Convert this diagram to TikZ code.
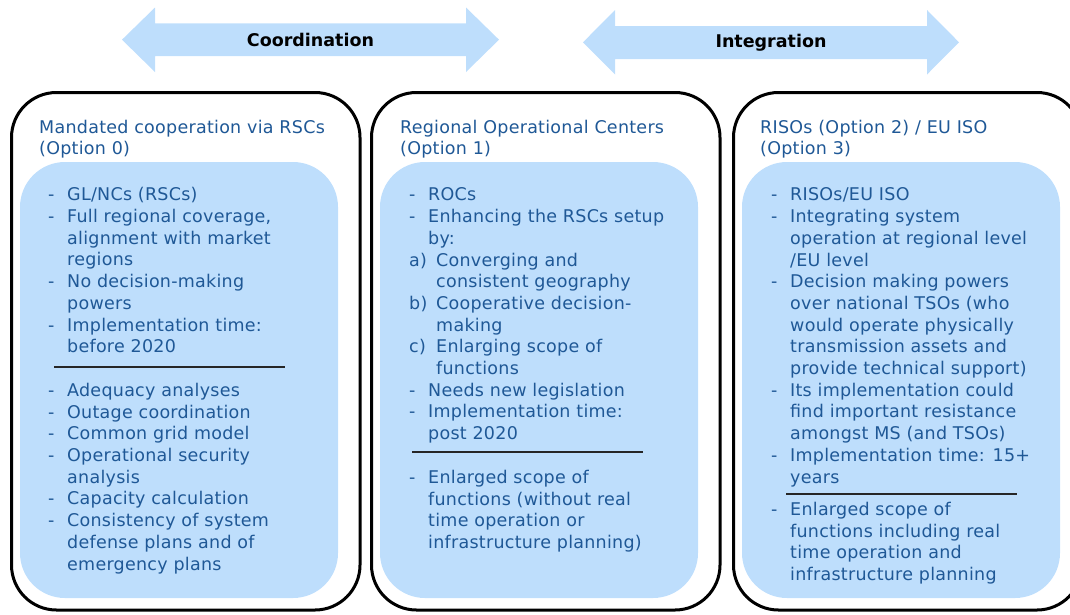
\documentclass[tikz,border=0pt]{standalone}
\usepackage{fontspec}
\setmainfont{DejaVu Sans}
\newfontfamily\optfont[LetterSpace=1.5]{DejaVu Sans}
\usepackage{xcolor}
\usetikzlibrary{positioning}

\definecolor{optblue}{RGB}{31,88,150}
\definecolor{optfill}{RGB}{190,222,252}
\newcommand{\listfont}{\optfont\fontsize{17.5}{21.7}\selectfont}
\newcommand{\dashln}{\makebox[19pt][l]{-}}
\newcommand{\indln}{\hspace*{19pt}}
\newcommand{\letln}[1]{\makebox[27pt][l]{#1}}
\newcommand{\indlet}{\hspace*{27pt}}

\begin{document}
\begin{tikzpicture}[
    x=1pt, y={(0pt,-1pt)},
    optbox/.style={draw, line width=3pt, rounded corners=45pt, inner sep=0pt,
        minimum width=348.5pt, minimum height=517.5pt},
    optpanel/.style={fill=optfill, rounded corners=45pt, inner sep=0pt,
        minimum width=318pt, minimum height=436pt},
    opttext/.style={anchor=north west, inner sep=0pt, align=left, font=\listfont, text=optblue},
    sepline/.style={line width=1.5pt, black!85},
    flowlbl/.style={font=\fontsize{17.5}{21}\selectfont\bfseries, inner sep=0pt}
]
    \clip (0,0) rectangle (1070,614);

    \fill[optfill] (122,39.7) -- (155,7.5) -- (155,23.4) -- (466,23.4) -- (466,7.5)
        -- (499,39.7) -- (466,72) -- (466,56) -- (155,56) -- (155,72) -- cycle;
    \node[flowlbl] (coordlbl) at (310.5,39.7) {Coordination};

    \fill[optfill] (583,42.3) -- (615,10) -- (615,26) -- (927,26) -- (927,10)
        -- (959,42.3) -- (927,74.5) -- (927,59) -- (615,59) -- (615,74.5) -- cycle;
    \node[flowlbl] (integlbl) at (771,42.3) {Integration};

    \node[optbox] (optzero) at (185.75,351.25) {};
    \node[optbox] (optone) at (545.75,351.25) {};
    \node[optbox] (optthree) at (907.75,351.25) {};

    \node[optpanel] (panzero) at (179,380) {};
    \node[optpanel] (panone) at (539,380) {};
    \node[optpanel] (panthree) at (901,380) {};

    \node[opttext] (titzero) at (39,117.8) {\strut Mandated cooperation via RSCs\\(Option 0)};
    \node[opttext] (titone) at (400,117.8) {\strut Regional Operational Centers\\(Option 1)};
    \node[opttext] (tittthree) at (760,117.8) {\strut RISOs (Option 2) / EU ISO\\(Option 3)};

    \node[opttext] (zerotop) at (48,185.5) {\strut\dashln GL/NCs (RSCs)\\
        \dashln Full regional coverage,\\
        \indln alignment with market\\
        \indln regions\\
        \dashln No decision-making\\
        \indln powers\\
        \dashln Implementation time:\\
        \indln before 2020};
    \draw[sepline] (54,367) -- (285,367);
    \node[opttext] (zerobot) at (48,381) {\strut\dashln Adequacy analyses\\
        \dashln Outage coordination\\
        \dashln Common grid model\\
        \dashln Operational security\\
        \indln analysis\\
        \dashln Capacity calculation\\
        \dashln Consistency of system\\
        \indln defense plans and of\\
        \indln emergency plans};

    \node[opttext] (onetop) at (409,185.5) {\strut\dashln ROCs\\
        \dashln Enhancing the RSCs setup\\
        \indln by:\\
        \letln{a)}Converging and\\
        \indlet consistent geography\\
        \letln{b)}Cooperative decision-\\
        \indlet making\\
        \letln{c)}Enlarging scope of\\
        \indlet functions\\
        \dashln Needs new legislation\\
        \dashln Implementation time:\\
        \indln post 2020};
    \draw[sepline] (412,452) -- (643,452);
    \node[opttext] (onebot) at (409,468) {\strut\dashln Enlarged scope of\\
        \indln functions (without real\\
        \indln time operation or\\
        \indln infrastructure planning)};

    \node[opttext] (threetop) at (771,185.5) {\strut\dashln RISOs/EU ISO\\
        \dashln Integrating system\\
        \indln operation at regional level\\
        \indln /EU level\\
        \dashln Decision making powers\\
        \indln over national TSOs (who\\
        \indln would operate physically\\
        \indln transmission assets and\\
        \indln provide technical support)\\
        \dashln Its implementation could\\
        \indln find important resistance\\
        \indln amongst MS (and TSOs)\\
        \dashln Implementation time: 15+\\
        \indln years};
    \draw[sepline] (786,494) -- (1017,494);
    \node[opttext] (threebot) at (771,500) {\strut\dashln Enlarged scope of\\
        \indln functions including real\\
        \indln time operation and\\
        \indln infrastructure planning};
\end{tikzpicture}
\end{document}
